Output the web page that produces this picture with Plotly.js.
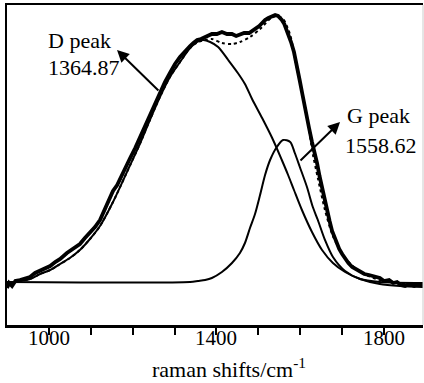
<!DOCTYPE html>
<html>
<head>
<meta charset="utf-8">
<script src="https://cdn.plot.ly/plotly-3.0.1.min.js"></script>
<style>
html,body{margin:0;padding:0;background:#fff;}
#chart{width:424px;height:383px;}
</style>
</head>
<body>
<div id="chart"></div>
<script>
const dataX = [900,905,912,920,931,943,955,967,979,991,1003,1015,1027,1043,1058,1074,1086,1098,1110,1122,1137,1153,1163,1178,1194,1206,1218,1230,1241,1253,1265,1277,1289,1301,1313,1325,1337,1345,1354,1363,1373,1381,1389,1401,1413,1425,1437,1447,1456,1466,1478,1485,1492,1502,1509,1516,1524,1533,1540,1547,1552,1556,1562,1568,1578,1585,1592,1599,1605,1611,1621,1628,1634,1640,1646,1652,1658,1664,1670,1676,1684,1693,1700,1707,1715,1724,1733,1743,1753,1764,1777,1790,1800,1812,1822,1831,1840,1850,1860,1872,1882,1893];
const dataY = [-6,-1,-4,1,2,4,5,9,11,14,16,20,23,29,33,38,44,49,55,62,76,91,97,111,124,134,145,157,167,179,190,200,209,218,225,231,236,239,242,243,245,247,248,248,250,248,248,246,247,249,249,251,253,256,259,262,264,266,267,266,264,262,258,252,240,230,217,201,188,174,154,140,130,119,106,94,83,73,61,51,42,33,28,23,19,15,13,11,8,7,5,4,1,2,-1,0,-3,-4,-2,-4,-2,-4];

// Fitted D band
const dX = [900,931,955,979,1003,1027,1050,1074,1098,1122,1153,1194,1217,1241,1265,1289,1313,1337,1354,1368,1385,1404,1428,1451,1468,1485,1509,1533,1556,1571,1585,1604,1628,1652,1678,1707,1743,1790,1838,1893];
const dY = [-2,1,3,8,12,18,24,32,43,56,80,117,138,162,185,205,220,234,240,242,240,235,222,209,198,183,164,144,122,107,92,72,50,32,19,10,3,-2,-4,-5];

// Fitted G band
const gX = [900,1337,1356,1373,1389,1413,1437,1456,1468,1480,1492,1504,1516,1528,1544,1559,1576,1587,1599,1616,1630,1642,1659,1678,1707,1743,1790,1893];
const gY = [0,0,1,2,4,10,19,29,39,54,68,87,107,122,135,142,140,129,115,95,75,62,42,25,11,3,0,-1];

// Sum of fitted bands
const sX = [900,931,955,979,1003,1027,1050,1074,1098,1122,1153,1194,1217,1241,1265,1289,1313,1337,1356,1373,1389,1413,1437,1456,1480,1504,1528,1544,1559,1576,1587,1599,1616,1630,1642,1659,1678,1707,1743,1790,1838,1893];
const sY = [-2,1,3,8,12,18,24,32,43,56,80,117,138,162,185,205,220,234,240,242,243,239,238,240,245,253,263,266,263,247,224,200,165,128,104,72,46,24,10,2,-1,-3];

const tickVals = [1000,1100,1200,1300,1400,1500,1600,1700,1800];
const labelVals = [1000,1400,1800];
const labelText = ['1000','1400','1800'];
const xTitle = 'raman shifts/cm<sup>-1</sup>';

const peakLabels = ['D peak','1364.87','G peak','1558.62'];

const font = 'Times New Roman';

const traces = [
  {x:gX, y:gY, mode:'lines', line:{color:'#000', width:2, shape:'spline', smoothing:0.8}},
  {x:dX, y:dY, mode:'lines', line:{color:'#000', width:2, shape:'spline', smoothing:0.8}},
  {x:sX, y:sY, mode:'lines', line:{color:'#000', width:2, dash:'dot', shape:'spline', smoothing:0.8}},
  {x:dataX, y:dataY, mode:'lines', line:{color:'#000', width:3.8}}
];

const annotations = [
  {x:993, y:242, text:peakLabels[0], showarrow:false, xanchor:'left', yanchor:'middle', font:{family:font, size:22, color:'#000'}},
  {x:993, y:215, text:peakLabels[1], showarrow:false, xanchor:'left', yanchor:'middle', font:{family:font, size:22, color:'#000'}},
  {x:1707, y:167, text:peakLabels[2], showarrow:false, xanchor:'left', yanchor:'middle', font:{family:font, size:22, color:'#000'}},
  {x:1702, y:137, text:peakLabels[3], showarrow:false, xanchor:'left', yanchor:'middle', font:{family:font, size:22, color:'#000'}},
  {x:1162.6, y:232, ax:1265, ay:190, axref:'x', ayref:'y', text:'', showarrow:true, arrowhead:2, arrowsize:1.2, arrowwidth:2, arrowcolor:'#000'},
  {x:1695, y:160, ax:1597, ay:120, axref:'x', ayref:'y', text:'', showarrow:true, arrowhead:2, arrowsize:1.2, arrowwidth:2, arrowcolor:'#000'},
  {x:0.534, xref:'paper', y:0, yref:'paper', yshift:-43, text:xTitle, showarrow:false, xanchor:'center', yanchor:'middle', font:{family:font, size:22, color:'#000'}}
];
labelVals.forEach((v, i) => {
  annotations.push({x:v, xref:'x', y:0, yref:'paper', yshift:-13, text:labelText[i], showarrow:false,
    xanchor:'center', yanchor:'middle', font:{family:font, size:21, color:'#000'}});
});

const layout = {
  width:424, height:383,
  margin:{l:7, r:1, t:5, b:58},
  showlegend:false,
  xaxis:{
    range:[900,1893], tickvals:tickVals, showticklabels:false,
    ticks:'outside', ticklen:7, tickwidth:2, tickcolor:'#000',
    showline:true, linewidth:2.5, linecolor:'#000', mirror:true,
    showgrid:false, zeroline:false
  },
  yaxis:{
    range:[-43,277], showticklabels:false, ticks:'',
    showline:true, linewidth:2.5, linecolor:'#000',
    showgrid:false, zeroline:false
  },
  shapes:[
    {type:'line', xref:'paper', yref:'paper', x0:1, x1:1, y0:0, y1:1, line:{color:'#cccccc', width:1}}
  ],
  annotations:annotations
};

Plotly.newPlot('chart', traces, layout, {staticPlot:true});
</script>
</body>
</html>
